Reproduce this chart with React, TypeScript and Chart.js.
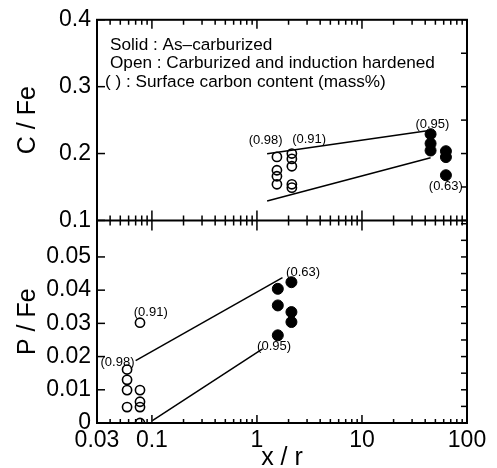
import { useEffect, useRef } from 'react';
import { Chart, registerables } from 'chart.js';

Chart.register(...registerables);

const FONT = '"Liberation Sans", Arial, Helvetica, sans-serif';

// Tick labels
const xTickValues = [0.03, 0.1, 1, 10, 100];
const xTickLabels = ['0.03', '0.1', '1', '10', '100'];
const cTickValues = [0.1, 0.2, 0.3, 0.4];
const cTickLabels = ['0.1', '0.2', '0.3', '0.4'];
const pTickValues = [0, 0.01, 0.02, 0.03, 0.04, 0.05];
const pTickLabels = ['0', '0.01', '0.02', '0.03', '0.04', '0.05'];

// Upper panel (C / Fe)
const cOpenX = [1.55, 1.55, 1.55, 1.55, 2.15, 2.15, 2.15, 2.15, 2.15];
const cOpenY = [0.195, 0.175, 0.166, 0.154, 0.2, 0.192, 0.181, 0.154, 0.149];
const cSolidX = [45, 45, 45, 63, 63, 63];
const cSolidY = [0.229, 0.215, 0.2045, 0.2035, 0.1947, 0.1676];
const cUpperLineX = [1.25, 42];
const cUpperLineY = [0.1996, 0.2341];
const cLowerLineX = [1.25, 45];
const cLowerLineY = [0.1291, 0.1937];
const cNoteText = ['(0.98)', '(0.91)', '(0.95)', '(0.63)'];
const cNoteX = [1.21, 3.14, 46.8, 62.8];
const cNoteY = [0.2193, 0.2218, 0.244, 0.1513];

// Lower panel (P / Fe)
const pOpenX = [0.058, 0.058, 0.058, 0.058, 0.077, 0.077, 0.077, 0.077, 0.077];
const pOpenY = [0.0161, 0.013, 0.0099, 0.0048, 0.0302, 0.0099, 0.0064, 0.0048, 0];
const pSolidX = [1.58, 1.58, 1.58, 2.13, 2.13, 2.13];
const pSolidY = [0.0404, 0.0354, 0.0264, 0.0424, 0.0334, 0.0304];
const pUpperLineX = [0.07, 1.75];
const pUpperLineY = [0.0188, 0.0438];
const pLowerLineX = [0.101, 1.13];
const pLowerLineY = [0.0007, 0.0223];
const pNoteText = ['(0.91)', '(0.98)', '(0.63)', '(0.95)'];
const pNoteX = [0.0975, 0.047, 2.75, 1.455];
const pNoteY = [0.0332, 0.0181, 0.0453, 0.0231];

const legendLines = [
  'Solid : As\u2013carburized',
  'Open : Carburized and induction hardened',
  '( ) : Surface carbon content (mass%)',
];

const pts = (xs: number[], ys: number[]) => xs.map((v, i) => ({ x: v, y: ys[i] }));

const decorPlugin = {
  id: 'decor',
  afterDraw(chart: any) {
    const ctx = chart.ctx;
    const xs = chart.scales.x;
    const yC = chart.scales.yC;
    const yP = chart.scales.yP;
    const L = chart.chartArea.left;
    const R = chart.chartArea.right;
    const T = yC.top;
    const M = yC.bottom;
    const B = yP.bottom;
    ctx.save();
    ctx.strokeStyle = '#000';
    ctx.fillStyle = '#000';

    // log x ticks
    ctx.lineWidth = 1.5;
    for (let e = -2; e <= 1; e++) {
      for (let m = 1; m <= 9; m++) {
        const v = m * Math.pow(10, e);
        if (v < 0.0299 || v > 100.01) continue;
        const px = xs.getPixelForValue(v);
        const major = m === 1;
        const lenEdge = major ? 9 : 5;
        const lenMid = major ? 10 : 5;
        ctx.beginPath();
        ctx.moveTo(px, T);
        ctx.lineTo(px, T + lenEdge);
        ctx.moveTo(px, M - lenMid);
        ctx.lineTo(px, M + lenMid);
        ctx.moveTo(px, B);
        ctx.lineTo(px, B - (major ? 8 : 4));
        ctx.stroke();
      }
    }
    // y ticks
    const yTick = (scale: any, vals: number[], x0: number, dir: number, len: number) => {
      vals.forEach((v) => {
        const py = scale.getPixelForValue(v);
        ctx.beginPath();
        ctx.moveTo(x0, py);
        ctx.lineTo(x0 + dir * len, py);
        ctx.stroke();
      });
    };
    yTick(yC, cTickValues, L, 1, 8);
    yTick(yP, pTickValues, L, 1, 8);
    const cRight: number[] = [];
    for (let k = 0; k <= 6; k++) cRight.push(0.1 + k * 0.05);
    yTick(yC, cRight, R, -1, 6);
    const pRight: number[] = [];
    for (let k = 0; k <= 12; k++) pRight.push(k * 0.005);
    yTick(yP, pRight, R, -1, 6);

    // frame
    ctx.lineWidth = 2;
    ctx.strokeRect(L, T, R - L, B - T);
    ctx.beginPath();
    ctx.moveTo(L, M);
    ctx.lineTo(R, M);
    ctx.stroke();

    // point notes
    ctx.font = `13px ${FONT}`;
    ctx.textAlign = 'center';
    ctx.textBaseline = 'middle';
    cNoteText.forEach((t, i) => {
      ctx.fillText(t, xs.getPixelForValue(cNoteX[i]), yC.getPixelForValue(cNoteY[i]));
    });
    pNoteText.forEach((t, i) => {
      ctx.fillText(t, xs.getPixelForValue(pNoteX[i]), yP.getPixelForValue(pNoteY[i]));
    });

    // legend text
    ctx.font = `17.2px ${FONT}`;
    ctx.textAlign = 'left';
    legendLines.forEach((t, i) => {
      ctx.fillText(t, L + (i === 2 ? 8 : 13), T + 25 + i * 18.5);
    });
    ctx.restore();
  },
};

export default function App() {
  const ref = useRef<HTMLCanvasElement | null>(null);
  useEffect(() => {
    if (!ref.current) return;
    const open = { pointRadius: 4.6, pointBorderWidth: 1.6, borderColor: '#000', backgroundColor: 'rgba(0,0,0,0)', pointStyle: 'circle' };
    const solid = { pointRadius: 5.5, pointBorderWidth: 1, borderColor: '#000', backgroundColor: '#000', pointStyle: 'circle' };
    const line = { type: 'line', borderColor: '#000', borderWidth: 1.5, pointRadius: 0, fill: false, showLine: true };
    const chart = new Chart(ref.current, {
      type: 'scatter',
      data: {
        datasets: [
          { label: 'C open', data: pts(cOpenX, cOpenY), yAxisID: 'yC', ...open },
          { label: 'C solid', data: pts(cSolidX, cSolidY), yAxisID: 'yC', ...solid },
          { label: 'C upper', data: pts(cUpperLineX, cUpperLineY), yAxisID: 'yC', ...line },
          { label: 'C lower', data: pts(cLowerLineX, cLowerLineY), yAxisID: 'yC', ...line },
          { label: 'P open', data: pts(pOpenX, pOpenY), yAxisID: 'yP', ...open },
          { label: 'P solid', data: pts(pSolidX, pSolidY), yAxisID: 'yP', ...solid },
          { label: 'P upper', data: pts(pUpperLineX, pUpperLineY), yAxisID: 'yP', ...line },
          { label: 'P lower', data: pts(pLowerLineX, pLowerLineY), yAxisID: 'yP', ...line },
        ] as any,
      },
      options: {
        animation: false,
        responsive: false,
        devicePixelRatio: 1,
        events: [],
        layout: { padding: { left: 10, top: 17, right: 30, bottom: 0 } },
        plugins: { legend: { display: false }, tooltip: { enabled: false } },
        scales: {
          x: {
            type: 'logarithmic',
            position: 'bottom',
            min: 0.03,
            max: 100,
            grid: { display: false, drawTicks: false },
            border: { display: false },
            afterBuildTicks: (s: any) => { s.ticks = xTickValues.map((v) => ({ value: v })); },
            afterFit: (s: any) => { s.height = 45; },
            ticks: {
              autoSkip: false, maxRotation: 0, minRotation: 0, padding: 4, color: '#000',
              font: { family: FONT, size: 23 },
              callback: (v: any) => { const i = xTickValues.indexOf(Number(v)); return i >= 0 ? xTickLabels[i] : ''; },
            },
            title: { display: true, text: 'x / r', color: '#000', font: { family: FONT, size: 25, lineHeight: 0.8 }, padding: 0 },
          },
          yP: {
            type: 'linear',
            position: 'left',
            stack: 'v',
            stackWeight: 204,
            min: 0,
            max: 0.061,
            grid: { display: false, drawTicks: false },
            border: { display: false },
            afterBuildTicks: (s: any) => { s.ticks = pTickValues.map((v) => ({ value: v })); },
            afterFit: (s: any) => { s.width = 87; },
            ticks: {
              autoSkip: false, padding: 6, color: '#000', font: { family: FONT, size: 23 },
              callback: (v: any) => { const i = pTickValues.indexOf(Number(v)); return i >= 0 ? pTickLabels[i] : ''; },
            },
            title: { display: true, text: 'P / Fe', color: '#000', font: { family: FONT, size: 25, lineHeight: 1.2 }, padding: { top: 3, bottom: 4 } },
          },
          yC: {
            type: 'linear',
            position: 'left',
            stack: 'v',
            stackWeight: 202,
            min: 0.1,
            max: 0.4,
            grid: { display: false, drawTicks: false },
            border: { display: false },
            afterBuildTicks: (s: any) => { s.ticks = cTickValues.map((v) => ({ value: v })); },
            afterFit: (s: any) => { s.width = 87; },
            ticks: {
              autoSkip: false, padding: 6, color: '#000', font: { family: FONT, size: 23 },
              callback: (v: any) => { const i = cTickValues.indexOf(Number(v)); return i >= 0 ? cTickLabels[i] : ''; },
            },
            title: { display: true, text: 'C / Fe', color: '#000', font: { family: FONT, size: 25, lineHeight: 1.2 }, padding: { top: 3, bottom: 4 } },
          },
        } as any,
      },
      plugins: [decorPlugin],
    } as any);
    return () => chart.destroy();
  }, []);
  return (
    <div style={{ position: 'absolute', left: 0, top: 0, width: 497, height: 468, background: '#fff' }}>
      <canvas ref={ref} width={497} height={468} style={{ display: 'block', width: 497, height: 468 }} />
    </div>
  );
}
